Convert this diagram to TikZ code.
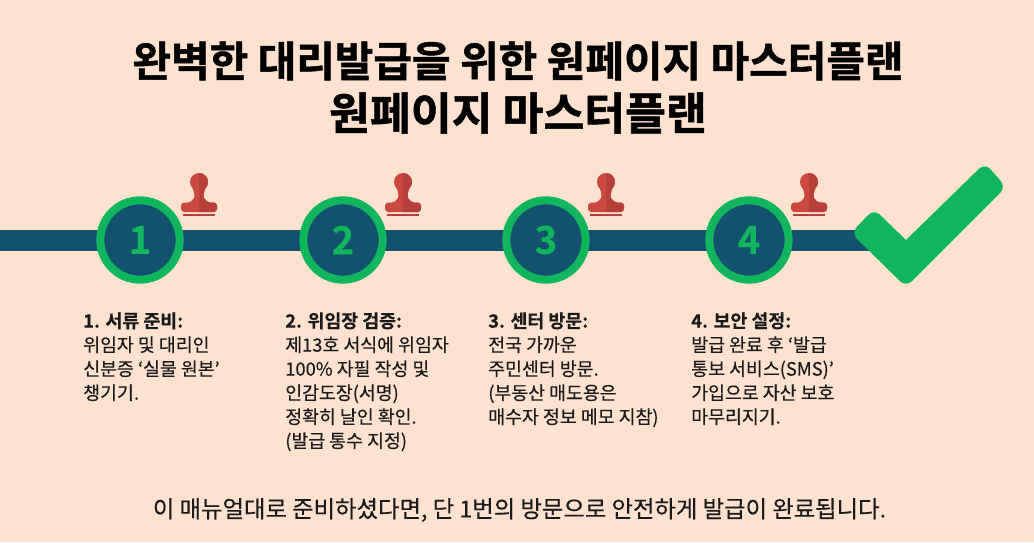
\documentclass[tikz,border=0pt]{standalone}
\usepackage{fontspec}
\setmainfont{Noto Sans CJK KR}
\newfontfamily\titlefont[FakeBold=1.2]{Noto Sans CJK KR Bold}
\newfontfamily\midfont[FakeBold=0.25]{Noto Sans CJK KR}
\newfontfamily\headfont[FakeBold=0.3]{Noto Sans CJK KR Bold}
\definecolor{bgc}{HTML}{FDE2D0}
\definecolor{barc}{HTML}{14506F}
\definecolor{grn}{HTML}{10B65C}
\definecolor{stampc}{HTML}{CB483E}
\definecolor{stampd}{HTML}{B8403A}
\definecolor{ink}{HTML}{1A1A1A}
\tikzset{
  px/.style={x=0.75pt,y=-0.75pt},
  stepdot/.style={circle,draw=grn,fill=barc,line width=6pt,minimum size=59.5pt,inner sep=0pt,text=grn,font=\headfont\fontsize{29}{29}\selectfont},
  titleone/.style={anchor=center,inner sep=0pt,text=black,font=\titlefont\fontsize{31.45}{31}\selectfont},
  titletwo/.style={anchor=center,inner sep=0pt,text=black,font=\titlefont\fontsize{33.3}{33}\selectfont},
  bodytext/.style={anchor=north west,inner sep=0pt,align=left,text=ink,font=\midfont\fontsize{13.75}{18}\selectfont},
  foottext/.style={anchor=center,inner sep=0pt,text=ink,font=\midfont\fontsize{17.5}{22}\selectfont},
  pics/stampmark/.style={code={
    \fill[stampc] (0,0) circle (9);
    \fill[stampc] (-7,4) .. controls (-5,10) and (-4,13) .. (-5,16) .. controls (-6,19) and (-9,20) .. (-12,21) -- (12,21) .. controls (9,20) and (6,19) .. (5,16) .. controls (4,13) and (5,10) .. (7,4) -- cycle;
    \fill[stampc,rounded corners=2.5] (-18,30) -- (-18,20.5) -- (18,20.5) -- (18,30) -- cycle;
    \begin{scope}
      \clip (0,-10) rectangle (20,31);
      \fill[stampd] (0,0) circle (9);
      \fill[stampd] (-7,4) .. controls (-5,10) and (-4,13) .. (-5,16) .. controls (-6,19) and (-9,20) .. (-12,21) -- (12,21) .. controls (9,20) and (6,19) .. (5,16) .. controls (4,13) and (5,10) .. (7,4) -- cycle;
      \fill[stampd,rounded corners=2.5] (-18,30) -- (-18,20.5) -- (18,20.5) -- (18,30) -- cycle;
    \end{scope}
    \fill[stampd] (-16,31.5) rectangle (16,34);
  }}
}
\begin{document}
\begin{tikzpicture}[px]
\useasboundingbox (0,0) rectangle (1034,542);
\fill[bgc] (0,0) rectangle (1034,542);
\coordinate (barstart) at (0,240.5);
\coordinate (barend) at (880,240.5);
\draw[barc,line width=15.75pt] (barstart) -- (barend);
\node[titleone] (t1) at (518,61) {완벽한 대리발급을 위한 원페이지 마스터플랜};
\node[titletwo] (t2) at (518,113) {원페이지 마스터플랜};
\node[stepdot] (s1) at (140,240) {1};
\node[stepdot] (s2) at (343,240) {2};
\node[stepdot] (s3) at (546,240) {3};
\node[stepdot] (s4) at (749,240) {4};
\pic at (199,182) {stampmark};
\pic at (403,182) {stampmark};
\pic at (606,182) {stampmark};
\pic at (809,182) {stampmark};
\fill[grn] (906,240) [rounded corners=6] -- (985,163) -- (1006,187) -- (906,287) -- (851,233) -- (874,209) [sharp corners] -- cycle;
\node[bodytext] (b1) at (83,312) {{\headfont 1. 서류 준비:}\\위임자 및 대리인\\신분증 ‘실물 원본’\\챙기기.};
\node[bodytext] (b2) at (285,312) {{\headfont 2. 위임장 검증:}\\제13호 서식에 위임자\\100\% 자필 작성 및\\인감도장(서명)\\정확히 날인 확인.\\(발급 통수 지정)};
\node[bodytext] (b3) at (488,312) {{\headfont 3. 센터 방문:}\\전국 가까운\\주민센터 방문.\\(부동산 매도용은\\매수자 정보 메모 지참)};
\node[bodytext] (b4) at (691,312) {{\headfont 4. 보안 설정:}\\발급 완료 후 ‘발급\\통보 서비스(SMS)’\\가입으로 자산 보호\\마무리지기.};
\node[foottext] (f) at (519.5,510) {이 매뉴얼대로 준비하셨다면, 단 1번의 방문으로 안전하게 발급이 완료됩니다.};
\end{tikzpicture}
\end{document}
